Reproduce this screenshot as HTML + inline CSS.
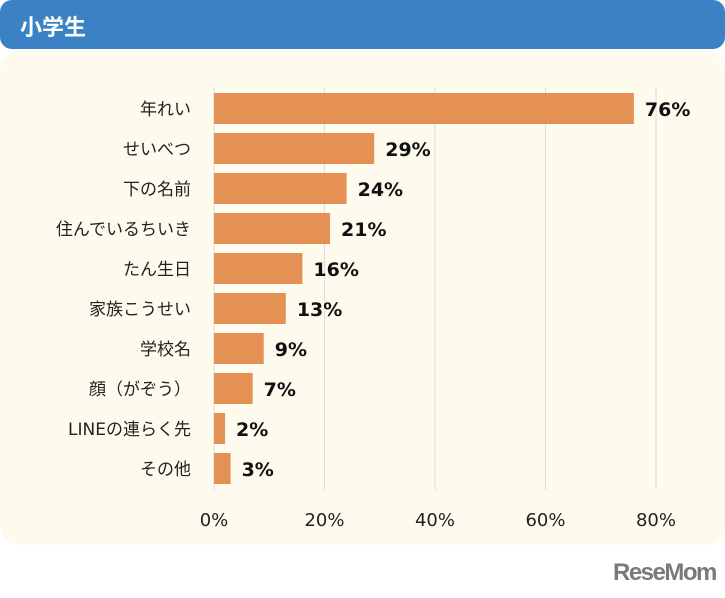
<!DOCTYPE html>
<html><head><meta charset="utf-8"><style>
body{margin:0;width:725px;height:598px;background:#fff;font-family:"DejaVu Sans","Noto Sans CJK JP",sans-serif;overflow:hidden;position:relative}
#hdr{position:absolute;left:0;top:0;width:725px;height:49px;background:#3b82c4;border-radius:12px}
#hdr span{position:absolute;left:20px;top:10px;color:#fff;font-weight:bold;font-size:22px;font-family:"Noto Sans CJK JP",sans-serif}
#panel{position:absolute;left:0;top:51px;width:725px;height:494px;background:#fdfbee;border-radius:20px}
#logo{position:absolute;left:613px;top:559px;font-weight:bold;font-size:24px;color:#7a7a7a;letter-spacing:-1.5px;font-family:"Liberation Sans",sans-serif}
</style></head><body>
<div id="hdr"><span>小学生</span></div>
<div id="panel"></div>
<svg id="chart" width="725" height="598" style="position:absolute;left:0;top:0"></svg>
<div id="logo">ReseMom</div>
<script>
const categories=["年れい","せいべつ","下の名前","住んでいるちいき","たん生日","家族こうせい","学校名","顔（がぞう）","LINEの連らく先","その他"];
const values=[76,29,24,21,16,13,9,7,2,3];
const ticks=[0,20,40,60,80];
const tickLabels=["0%","20%","40%","60%","80%"];
const NS="http://www.w3.org/2000/svg";
const svg=document.getElementById('chart');
const x0=214,pxPer=(656-214)/80,yTop=88,band=40;
const xs=v=>x0+v*pxPer;
const yb=i=>yTop+i*band;
function mk(t,a){const e=document.createElementNS(NS,t);for(const k in a)e.setAttribute(k,a[k]);svg.appendChild(e);return e;}
ticks.forEach((t,i)=>{
 const l=mk('line',{x1:xs(t),x2:xs(t),y1:88,y2:490,stroke:'#dcdcdc','stroke-width':1});
 
 
 const tx=mk('text',{x:xs(t),y:526,'text-anchor':'middle','font-size':18,fill:'#222'});
 tx.textContent=tickLabels[i];
 
 
});
categories.forEach((c,i)=>{
 const y=yb(i);
 const r=mk('rect',{x:x0,y:y+5,width:xs(values[i])-x0,height:31,fill:'#e59155'});
 
 
 const lb=mk('text',{x:191,y:y+27,'text-anchor':'end','font-size':17,fill:'#222'});
 lb.textContent=c;
 
 
 const v=mk('text',{x:xs(values[i])+11,y:y+28,'font-size':19,'font-weight':'bold',fill:'#111'});
 v.textContent=values[i]+'%';
 
 
});
</script>
</body></html>
